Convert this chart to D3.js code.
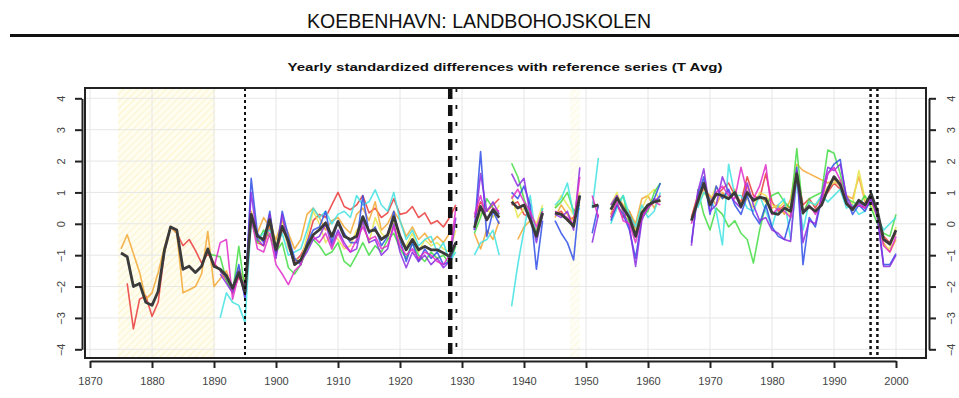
<!DOCTYPE html>
<html>
<head>
<meta charset="utf-8">
<script src="https://cdn.jsdelivr.net/npm/d3@7"></script>
<style>
  body { margin: 0; background: #fff; }
  svg { display: block; font-family: "Liberation Sans", Arial, sans-serif; }
</style>
</head>
<body>
<svg id="chart" width="959" height="398"></svg>
<script>
// ---- data (one value per year, starting at firstYear; null = no data) ----
const firstYear = 1875;

const refSeries = [
  -0.93, -1.05, -2.0, -1.9, -2.5,
  -2.6, -2.15, -0.85, -0.1, -0.2, -1.45, -1.35, -1.55, -1.35, -0.8,
  -1.35, -1.45, -1.65, -2.05, -1.55, -2.2, 0.3, -0.4, -0.5, 0.13,
  -0.83, -0.08, -0.56, -1.3, -1.15, -0.72, -0.35, -0.19, 0.03, -0.4,
  0.07, -0.4, -0.5, -0.4, 0.23, -0.24, -0.19, -0.5, -0.35, 0.23,
  -0.4, -0.83, -0.5, -0.83, -0.72, -0.83, -0.83, -0.93, -1.04, -0.6,
  null, null, -0.13, 0.55, 0.13, 0.45, 0.2, null, 0.7, 0.5,
  0.6, 0.13, -0.4, 0.35, null, 0.35, 0.3, 0.13, -0.08, 0.9,
  null, 0.55, 0.6, null, 0.45, 0.82, 0.5, 0.2, -0.4, 0.35,
  0.6, 0.7, 0.75, null, null, null, null, 0.1, 0.7, 1.3,
  0.6, 0.95, 0.9, 0.8, 1.0, 0.55, 1.0, 0.75, 0.85, 0.8,
  0.35, 0.3, 0.5, 0.4, 1.6, 0.35, 0.55, 0.4, 0.6, 1.1,
  1.5, 1.25, 0.65, 0.45, 0.75, 0.6, 0.95, 0.4, -0.5, -0.65,
  -0.2
];

const redSeries = [
  null, -1.9, -3.35, -2.4, -2.3,
  -2.95, -2.5, -0.9, -0.1, -0.3, -0.7, -0.5, -0.85, -1.25, -0.95,
  -1.25, -1.5, -1.8, -2.2, -1.7, -2.0, 0.2, -0.6, -0.7, -0.1,
  -1.0, -0.2, -0.5, -1.2, -1.0, -0.6, 0.1, 0.3, 0.2, 0.6,
  1.0, 0.55, 0.45, 0.6, 0.9, 0.35, 0.5, 0.2, 0.35, 0.8,
  0.3, 0.35, 0.55, 0.2, 0.35, 0.0, 0.1, -0.1, 0.2, 0.6,
  null, null, 0.2, 0.7, 0.4, 0.6, 0.8, null, 0.6, 0.7,
  0.3, 0.2, -0.3, 0.4, null, 0.3, 0.4, 0.1, 0.2, 0.8,
  null, 0.7, 0.5, null, 0.3, 0.6, 0.2, 0.4, -0.2, 0.3,
  0.5, 0.8, 0.7, null, null, null, null, 0.2, 0.9, 1.2,
  0.8, 0.9, 1.1, 1.3, 0.9, 0.7, 1.5, 0.9, 0.8, 1.6,
  0.7, 0.4, 0.6, 0.5, 1.7, 0.6, 0.8, 0.5, 0.9, 1.0,
  1.3, 1.1, 0.6, 0.55, 0.6, 0.5, 0.7, 0.3, -0.4, -0.6,
  -0.3
];

const orangeSeries = [
  -0.8, -0.35, -0.95, -1.55, -2.4,
  -2.2, -1.55, -0.75, -0.1, -0.3, -2.2, -2.1, -2.0, -1.6, -0.25,
  -2.0, -1.75, -1.5, -2.1, -1.4, -1.9, 0.4, -0.3, 0.2, -0.1,
  -0.5, 0.1, -0.3, -0.8, -0.5, 0.3, 0.5, 0.2, -0.2, 0.1,
  0.2, -0.1, -0.3, 0.3, 0.5, 0.1, 0.7, -0.2, 0.0, 0.4,
  0.1, -0.4, -0.1, -0.5, -0.3, -0.6, -0.4, -0.6, -0.3, 0.0,
  null, null, -0.3, -0.8, -0.2, -0.5, 0.1, null, null, -0.5,
  -0.1, 0.1, -0.2, 0.3, null, 0.2, 0.6, 0.3, 0.1, 0.7,
  null, null, null, null, 0.3, 0.9, 0.6, 0.4, 0.0, 0.8,
  0.9, 0.5, 0.9, null, null, null, null, null, 0.8, 1.1,
  0.9, 0.6, 1.0, 0.8, 1.1, 0.6, 1.2, 0.7, 0.9, 0.7,
  0.5, 0.6, 0.3, 0.8, 1.9, 1.7, 1.6, 1.5, 1.4, 1.3,
  1.4, 1.2, 0.9, 0.8, 1.5, 0.7, 0.8, 0.3, -0.6, -0.9,
  -0.5
];

const yellowSeries = [
  null, null, null, null, null,
  null, null, null, null, null, null, null, null, null, null,
  null, null, null, null, null, -1.8, 0.1, -0.6, -0.5, 0.3,
  -0.7, 0.0, -0.8, -1.1, -1.2, -0.4, 0.4, 0.0, -0.6, -0.3,
  -0.5, -0.8, -0.7, -0.2, 0.0, -0.6, 0.2, -0.3, -0.5, 0.1,
  -0.6, -0.7, -0.3, -0.9, -0.5, -0.7, -0.6, -0.8, -0.9, -0.2,
  null, null, 0.0, 0.3, 0.5, 0.2, 0.6, null, 0.9, 0.2,
  0.5, 0.3, 0.0, 0.6, null, 0.5, 0.9, 0.6, 0.3, 1.0,
  null, null, null, null, 0.6, 1.0, 0.3, 0.1, -0.2, 0.5,
  0.9, 1.1, 0.7, null, null, null, null, null, 0.6, 1.0,
  0.7, 1.2, 0.8, 0.9, 1.0, 0.6, 0.8, 0.5, 1.0, 0.9,
  0.6, 0.5, 0.7, 0.2, 1.5, 0.4, 0.7, 0.6, 0.8, 1.2,
  1.3, 1.4, 0.9, 0.6, 1.7, 0.8, 0.6, 0.2, -0.7, -0.8,
  -0.1
];

const greenSeries = [
  null, null, null, null, null,
  null, null, null, null, null, null, null, null, null, -0.95,
  -1.0, -1.05, -1.8, -2.2, -0.72, -2.1, 0.2, -0.6, -0.2, -0.4,
  -0.9, -0.6, -1.4, -1.6, -1.3, -0.8, -0.5, -0.7, -1.0, -0.9,
  -0.6, -1.2, -1.36, -1.0, -0.6, -1.0, -0.7, -0.9, -0.5, -0.3,
  -0.8, -1.1, -0.6, -1.0, -1.2, -0.9, -1.1, -1.0, -1.3, -0.7,
  null, null, -0.3, 0.2, 0.8, 0.5, 0.3, null, 1.93, 1.5,
  0.8, 0.2, -0.3, 0.5, null, 0.5, 0.7, 1.0, 0.4, 0.6,
  null, null, null, null, 0.2, 0.6, 0.9, 0.0, -0.3, 0.2,
  0.4, 1.0, 1.3, null, null, null, null, null, 1.1, 0.3,
  -0.2, 0.5, 0.3, -0.1, 0.1, -0.3, -0.5, -1.25, -0.2, 0.6,
  0.9, 1.0, 0.7, 0.5, 2.4, 0.3, 0.8, 0.9, 1.0, 2.35,
  2.25, 1.6, 0.8, 0.7, 0.6, 0.9, 0.5, 0.0, -0.3, -0.4,
  0.3
];

const cyanSeries = [
  null, null, null, null, null,
  null, null, null, null, null, null, null, null, null, null,
  null, -3.0, -2.2, -2.5, -2.6, -3.15, 0.1, -0.5, -0.3, -0.2,
  -0.7, -0.3, -1.0, -0.9, -0.8, -0.2, 0.5, 0.2, 0.4, 0.0,
  0.3, 0.4, 0.2, 0.9, 0.6, 0.7, 1.08, 0.6, 0.4, 1.0,
  0.1, -0.5, -0.2, -0.7, -0.5, -0.4, -0.9, -0.6, -1.2, -0.9,
  null, null, -1.0, -0.6, -0.5, -0.2, -1.0, null, -2.63, -1.3,
  -0.2, 0.9, -0.5, 0.5, null, 0.6, 0.8, 1.3, 0.3, 0.5,
  null, 0.5, 2.1, null, 0.0, 0.5, 0.9, 0.3, -0.1, 0.6,
  0.2, 0.4, 1.0, null, null, null, null, null, 0.5, 1.0,
  0.8, 0.4, -0.67, 1.9, 0.9, 0.9, 0.5, 0.4, 0.9, 0.4,
  -0.1, 0.6, 0.8, -0.5, 1.4, -0.2, 0.7, 0.6, 0.9, 0.7,
  0.9, 1.1, 0.5, 0.6, 0.3, 0.4, 1.0, 0.2, -0.2, 0.0,
  0.2
];

const blueSeries = [
  null, null, null, null, null,
  null, null, null, null, null, null, null, null, null, null,
  null, -1.5, -1.7, -2.1, -1.3, -2.4, 1.45, -0.3, -0.6, 0.4,
  -1.0, 0.4, -0.4, -1.1, -1.3, -0.6, -0.2, -0.1, 0.4, -0.6,
  0.1, -0.3, -0.6, -0.6, 0.9, -0.3, -0.1, -0.7, -0.4, 0.4,
  -0.5, -1.2, -0.6, -1.2, -0.8, -1.1, -0.9, -1.3, -1.2, -0.6,
  null, null, -0.2, 2.3, -0.4, 0.4, 0.0, null, 1.0, 0.8,
  1.2, 0.6, -1.45, 0.1, null, 0.1, -0.3, -0.6, -1.15, 0.9,
  null, -0.3, 0.6, null, 0.1, 0.6, 0.3, -0.2, -1.1, 0.2,
  0.5, 0.8, 1.3, null, null, null, null, -0.6, 0.9, 1.5,
  0.3, 1.2, 0.8, 1.1, 0.6, 0.3, 0.9, 0.3, 0.0, 0.6,
  -0.1, -0.4, -0.5, 0.2, 1.8, -1.3, 0.2, -0.1, 0.8, 1.6,
  1.9, 2.05, 0.8, 0.3, 0.6, 0.4, 0.8, 0.3, -1.3, -1.3,
  -0.95
];

const purpleSeries = [
  null, null, null, null, null,
  null, null, null, null, null, null, null, null, null, null,
  null, -1.6, -1.9, -2.2, -1.5, -2.3, 1.0, -0.5, -0.7, 0.3,
  -1.1, 0.3, -0.7, -1.3, -1.2, -0.9, -0.5, -0.4, 0.0, -0.7,
  -0.2, -0.6, -0.9, -0.8, 0.1, -0.6, -0.5, -1.0, -0.8, 0.0,
  -0.9, -1.4, -0.9, -1.2, -1.0, -1.3, -1.1, -1.4, -1.2, 0.2,
  null, null, -0.2, 1.6, 0.4, 0.7, 0.3, null, 1.6, 1.2,
  1.45, 0.3, -0.6, 0.3, null, 0.3, 0.2, 0.4, -0.2, 1.8,
  null, -0.6, 0.3, null, 0.6, 0.9, 0.4, -0.1, -1.36, 0.1,
  0.6, 0.7, 0.9, null, null, null, null, -0.7, 1.0, 1.75,
  0.4, 0.6, 1.5, 1.0, 0.7, 0.5, 1.3, 0.6, 0.1, 0.2,
  -0.2, -0.3, -0.5, -0.56, 1.7, -0.6, 0.1, 0.0, 0.9, 1.8,
  1.7, 1.9, 0.9, 0.5, 0.7, 0.5, 0.8, 0.2, -1.36, -1.36,
  -1.0
];

const magentaSeries = [
  null, null, null, null, null,
  null, null, null, null, null, null, null, null, null, null,
  -1.4, -0.6, -0.5, -2.4, -1.6, -2.0, 0.2, -0.8, -0.9, -0.3,
  -1.3, -1.6, -1.94, -1.5, -1.3, -0.7, -0.4, -0.6, -0.3, -0.8,
  -0.3, -0.7, -0.9, -0.5, -0.1, -0.5, -0.4, -0.8, -0.7, -0.1,
  -0.7, -1.0, -0.8, -1.1, -0.9, -1.0, -1.2, -1.3, -1.0, 0.5,
  null, null, 0.3, 0.9, 0.1, 0.5, 0.4, null, 0.8, 1.1,
  0.7, 0.4, -0.1, 0.4, null, 0.4, 0.3, 0.2, 0.0, 1.5,
  null, 0.9, 0.2, null, 0.2, 0.7, 0.1, 0.0, -0.6, 0.2,
  0.5, 0.7, 0.6, null, null, null, null, 0.0, 0.8, 1.2,
  0.7, 1.0, 1.2, 0.9, 0.8, 1.8, 1.0, 0.8, 1.2, 1.88,
  0.3, 0.5, 0.4, 0.2, 1.5, 0.4, 0.6, 0.3, 0.7, 1.6,
  1.8, 1.4, 0.7, 0.5, 0.6, 0.5, 0.9, 0.3, -0.7, -0.9,
  -0.4
];

const xTickYears = [1870, 1880, 1890, 1900, 1910, 1920, 1930, 1940, 1950, 1960, 1970, 1980, 1990, 2000];
const yTickValues = [-4, -3, -2, -1, 0, 1, 2, 3, 4];
const shadedPeriods = [[1874.5, 1890.2], [1947.4, 1949.0]];
const breakYears = [1895.0, 1928.1, 1929.1, 1995.9, 1997.0];

const pageTitle = "KOEBENHAVN: LANDBOHOJSKOLEN";
const plotTitle = "Yearly standardized differences with reference series (T Avg)";

// ---- layout ----
const svg = d3.select("#chart");
const box = { left: 85, right: 926, top: 88, bottom: 358 };

const x = d3.scaleLinear().domain([1870, 2000]).range([90, 896]);
const y = d3.scaleLinear().domain([-4, 4]).range([349.3, 98.3]);

// titles
svg.append("text")
  .attr("x", 479).attr("y", 28)
  .attr("text-anchor", "middle")
  .attr("font-size", 21)
  .attr("textLength", 344).attr("lengthAdjust", "spacingAndGlyphs")
  .attr("fill", "#111")
  .text(pageTitle);

svg.append("line")
  .attr("x1", 10).attr("x2", 959)
  .attr("y1", 35.5).attr("y2", 35.5)
  .attr("stroke", "#111").attr("stroke-width", 3);

svg.append("text")
  .attr("x", 505).attr("y", 71)
  .attr("text-anchor", "middle")
  .attr("font-size", 11.5).attr("font-weight", "bold")
  .attr("textLength", 435).attr("lengthAdjust", "spacingAndGlyphs")
  .attr("fill", "#111")
  .text(plotTitle);

// hatch pattern for the shaded periods
const defs = svg.append("defs");
const pat = defs.append("pattern")
  .attr("id", "hatch")
  .attr("patternUnits", "userSpaceOnUse")
  .attr("width", 5).attr("height", 5)
  .attr("patternTransform", "rotate(45)");
pat.append("rect").attr("width", 5).attr("height", 5).attr("fill", "#fffdf0");
pat.append("line")
  .attr("x1", 0).attr("y1", 0).attr("x2", 0).attr("y2", 5)
  .attr("stroke", "#fbf4cc").attr("stroke-width", 2);

defs.append("clipPath").attr("id", "plotclip")
  .append("rect")
  .attr("x", box.left).attr("y", box.top)
  .attr("width", box.right - box.left).attr("height", box.bottom - box.top);

const plot = svg.append("g").attr("clip-path", "url(#plotclip)");

plot.selectAll("rect.shade")
  .data(shadedPeriods)
  .enter().append("rect")
  .attr("class", "shade")
  .attr("x", d => x(d[0]))
  .attr("width", d => x(d[1]) - x(d[0]))
  .attr("y", box.top)
  .attr("height", box.bottom - box.top)
  .attr("fill", "url(#hatch)")
  .attr("opacity", (d, i) => i === 0 ? 1 : 0.6);

// grid
plot.selectAll("line.vgrid")
  .data(xTickYears)
  .enter().append("line")
  .attr("x1", d => x(d)).attr("x2", d => x(d))
  .attr("y1", box.top).attr("y2", box.bottom)
  .attr("stroke", "#e6e6e6").attr("stroke-width", 1);

plot.selectAll("line.hgrid")
  .data(yTickValues)
  .enter().append("line")
  .attr("x1", box.left).attr("x2", box.right)
  .attr("y1", d => y(d)).attr("y2", d => y(d))
  .attr("stroke", "#e6e6e6").attr("stroke-width", 1);

// series
const line = d3.line()
  .defined(d => d != null)
  .x((d, i) => x(firstYear + i))
  .y(d => y(d));

const colored = [
  { values: redSeries, color: "#ea3a3a" },
  { values: orangeSeries, color: "#f2a734" },
  { values: yellowSeries, color: "#e9e44e" },
  { values: greenSeries, color: "#44dd44" },
  { values: cyanSeries, color: "#3fe2e2" },
  { values: blueSeries, color: "#2f4fe6" },
  { values: purpleSeries, color: "#8a2be2" },
  { values: magentaSeries, color: "#e02cc8" }
];

plot.selectAll("path.member")
  .data(colored)
  .enter().append("path")
  .attr("class", "member")
  .attr("d", d => line(d.values))
  .attr("fill", "none")
  .attr("stroke", d => d.color)
  .attr("stroke-width", 1.6)
  .attr("stroke-opacity", 0.85)
  .attr("stroke-linejoin", "round");

plot.append("path")
  .attr("d", line(refSeries))
  .attr("fill", "none")
  .attr("stroke", "#3a3a3a")
  .attr("stroke-width", 2.8)
  .attr("stroke-linejoin", "round");

// break lines
const breakStyle = [
  { w: 2, dash: "3,3" },
  { w: 4.5, dash: "11,6" },
  { w: 1.8, dash: "4,13" },
  { w: 2.5, dash: "3,3" },
  { w: 2.5, dash: "3,3" }
];
plot.selectAll("line.brk")
  .data(breakYears)
  .enter().append("line")
  .attr("x1", d => x(d)).attr("x2", d => x(d))
  .attr("y1", box.top).attr("y2", box.bottom)
  .attr("stroke", "#111")
  .attr("stroke-width", (d, i) => breakStyle[i].w)
  .attr("stroke-dasharray", (d, i) => breakStyle[i].dash);

// frame
svg.append("rect")
  .attr("x", box.left).attr("y", box.top)
  .attr("width", box.right - box.left).attr("height", box.bottom - box.top)
  .attr("fill", "none").attr("stroke", "#222").attr("stroke-width", 2);

// axes
const xAxis = d3.axisBottom(x).tickValues(xTickYears).tickFormat(d3.format("d"))
  .tickSize(7).tickSizeOuter(0).tickPadding(9);
const gx = svg.append("g").attr("transform", "translate(0,361)").call(xAxis);

const yLeft = d3.axisLeft(y).tickValues(yTickValues).tickSize(7).tickSizeOuter(0).tickPadding(12);
const gyl = svg.append("g").attr("transform", "translate(82,0)").call(yLeft);

const yRight = d3.axisRight(y).tickValues(yTickValues).tickSize(7).tickSizeOuter(0).tickPadding(12);
const gyr = svg.append("g").attr("transform", "translate(929,0)").call(yRight);

[gx, gyl, gyr].forEach(g => {
  g.select(".domain").attr("stroke", "#222").attr("stroke-width", 2);
  g.selectAll(".tick line").attr("stroke", "#222").attr("stroke-width", 2);
  g.selectAll(".tick text")
    .attr("fill", "#444")
    .attr("font-size", 11)
    .attr("font-family", "'Liberation Sans', Arial, sans-serif");
});

// rotated y labels (read bottom to top)
gyl.selectAll(".tick text")
  .attr("x", null).attr("dy", null)
  .attr("text-anchor", "middle")
  .attr("transform", "translate(-21,0) rotate(-90)")
  .attr("dy", "0.35em");
gyr.selectAll(".tick text")
  .attr("x", null).attr("dy", null)
  .attr("text-anchor", "middle")
  .attr("transform", "translate(22,0) rotate(-90)")
  .attr("dy", "0.35em");
</script>
</body>
</html>
